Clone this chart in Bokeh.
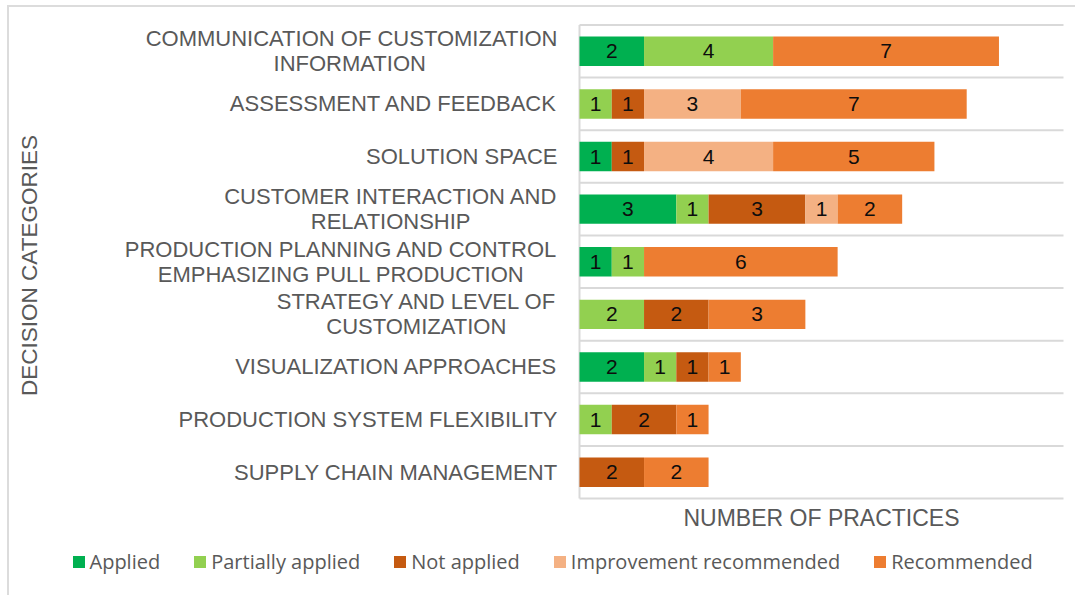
import math
from bokeh.plotting import figure
from bokeh.models import ColumnDataSource, Legend, LegendItem, Range1d
from bokeh.core.properties import value
from bokeh.embed import file_html
from bokeh.resources import INLINE

# ---------------- data ----------------
categories = [
    "COMMUNICATION OF CUSTOMIZATION\nINFORMATION",
    "ASSESSMENT AND FEEDBACK",
    "SOLUTION SPACE",
    "CUSTOMER INTERACTION AND\nRELATIONSHIP",
    "PRODUCTION PLANNING AND CONTROL\nEMPHASIZING PULL PRODUCTION",
    "STRATEGY AND LEVEL OF\nCUSTOMIZATION",
    "VISUALIZATION APPROACHES",
    "PRODUCTION SYSTEM FLEXIBILITY",
    "SUPPLY CHAIN MANAGEMENT",
]
series_names = ["Applied", "Partially applied", "Not applied",
                "Improvement recommended", "Recommended"]
applied = [2, 0, 1, 3, 1, 0, 2, 0, 0]
partially_applied = [4, 1, 0, 1, 1, 2, 1, 1, 0]
not_applied = [0, 1, 1, 3, 0, 2, 1, 2, 2]
improvement_recommended = [0, 3, 4, 1, 0, 0, 0, 0, 0]
recommended = [7, 7, 5, 2, 6, 3, 1, 1, 2]
series_values = [applied, partially_applied, not_applied,
                 improvement_recommended, recommended]
colors = ["#00b050", "#92d050", "#c55a11", "#f4b183", "#ed7d31"]

x_title = "NUMBER OF PRACTICES"
y_title = "DECISION CATEGORIES"
x_max = 15

# ---------------- layout (page pixels) ----------------
OX, OY = 9, 7                      # canvas origin on the page
W, H = 1077 - OX, 597 - OY
PLOT_L, PLOT_R = 579, 1063         # plot area in page pixels
PLOT_T, PLOT_B = 24.5, 498
n = len(categories)
px_unit = (PLOT_R - PLOT_L) / x_max
px_row = (PLOT_B - PLOT_T) / n

def dx(px):   # page x pixel -> data x
    return (px - PLOT_L) / px_unit

def dy(py):   # page y pixel -> data y
    return (n - 0.5) - (py - PLOT_T) / px_row

TEXT_GREY = "#595959"
GRID = "#d9d9d9"

p = figure(width=W, height=H, output_backend="svg", toolbar_location=None,
           x_range=Range1d(dx(OX), dx(OX + W)), y_range=Range1d(dy(OY + H), dy(OY)),
           min_border=0, min_border_left=0, min_border_right=0,
           min_border_top=0, min_border_bottom=0)
p.xaxis.visible = False
p.yaxis.visible = False
p.grid.visible = False
p.outline_line_color = None
p.background_fill_color = "white"
p.border_fill_color = "white"
p.styles = {"margin-left": "7px", "margin-top": "5px",
            "border-top": "2px solid #dcdcdc", "border-left": "2px solid #dcdcdc"}

ypos = [n - 1 - i for i in range(n)]

# horizontal grid lines at category boundaries + left axis line
bounds = [k - 0.5 for k in range(n + 1)]
p.segment(x0=[0] * len(bounds), x1=[x_max] * len(bounds), y0=bounds, y1=bounds,
          line_color=GRID, line_width=2)
p.segment(x0=[0], x1=[0], y0=[-0.5], y1=[n - 0.5], line_color=GRID, line_width=2)

# stacked bars
left = [0] * n
renderers = []
txt_x, txt_y, txt_t = [], [], []
for name, vals, col in zip(series_names, series_values, colors):
    right = [l + v for l, v in zip(left, vals)]
    src = ColumnDataSource(dict(y=ypos, left=left, right=right))
    r = p.hbar(y="y", left="left", right="right", height=0.56, source=src,
               fill_color=col, line_color=None)
    renderers.append(r)
    for yy, l, v in zip(ypos, left, vals):
        if v > 0:
            txt_x.append(l + v / 2)
            txt_y.append(yy)
            txt_t.append(str(v))
    left = right

p.text(x=txt_x, y=txt_y, text=txt_t, text_align="center", text_baseline="middle",
       text_font=value("Liberation Sans"), text_font_size="21px", text_color="#0d0d0d")

# category labels: right aligned, second line centred under the first
ARIAL = {'A': 667, 'B': 667, 'C': 722, 'D': 722, 'E': 667, 'F': 611, 'G': 778, 'H': 722,
         'I': 278, 'J': 500, 'K': 667, 'L': 556, 'M': 833, 'N': 722, 'O': 778, 'P': 667,
         'Q': 778, 'R': 722, 'S': 667, 'T': 611, 'U': 722, 'V': 667, 'W': 944, 'X': 667,
         'Y': 667, 'Z': 611, ' ': 278}
FS = 22
LABEL_RIGHT = 557
half_gap = 12.5 / px_row

r_x, r_y, r_t = [], [], []
c_x, c_y, c_t = [], [], []
for cat, yy in zip(categories, ypos):
    lines = cat.split("\n")
    if len(lines) == 1:
        r_x.append(dx(LABEL_RIGHT)); r_y.append(yy); r_t.append(lines[0])
    else:
        w1 = sum(ARIAL.get(ch, 667) for ch in lines[0]) / 1000 * FS
        r_x.append(dx(LABEL_RIGHT)); r_y.append(yy + half_gap); r_t.append(lines[0])
        c_x.append(dx(LABEL_RIGHT - w1 / 2)); c_y.append(yy - half_gap); c_t.append(lines[1])

p.text(x=r_x, y=r_y, text=r_t, text_align="right", text_baseline="middle",
       text_font=value("Liberation Sans"), text_font_size=f"{FS}px", text_color=TEXT_GREY)
p.text(x=c_x, y=c_y, text=c_t, text_align="center", text_baseline="middle",
       text_font=value("Liberation Sans"), text_font_size=f"{FS}px", text_color=TEXT_GREY)

# axis titles
p.text(x=[dx(29)], y=[dy(265)], text=[y_title], angle=math.pi / 2,
       text_align="center", text_baseline="middle",
       text_font=value("Liberation Sans"), text_font_size="22.5px", text_color=TEXT_GREY)
p.text(x=[x_max / 2], y=[dy(517.5)], text=[x_title],
       text_align="center", text_baseline="middle",
       text_font=value("Liberation Sans"), text_font_size="23px", text_color=TEXT_GREY)

# legend (glyph box 15px -> drawn square ~12px)
LEG_LEFT, LEG_CENTER_Y, LEG_H = 70.5, 561, 27
legend = Legend(items=[LegendItem(label=nm, renderers=[r]) for nm, r in zip(series_names, renderers)],
                orientation="horizontal",
                location=(LEG_LEFT - OX, (OY + H) - (LEG_CENTER_Y + LEG_H / 2)),
                label_text_font="Open Sans", label_text_font_size="20px",
                label_text_color=TEXT_GREY, glyph_width=15, glyph_height=15,
                label_standoff=4, spacing=32, padding=0, margin=0,
                border_line_color=None, background_fill_alpha=0)
p.add_layout(legend)

open("out.html", "w").write(file_html(p, INLINE))
